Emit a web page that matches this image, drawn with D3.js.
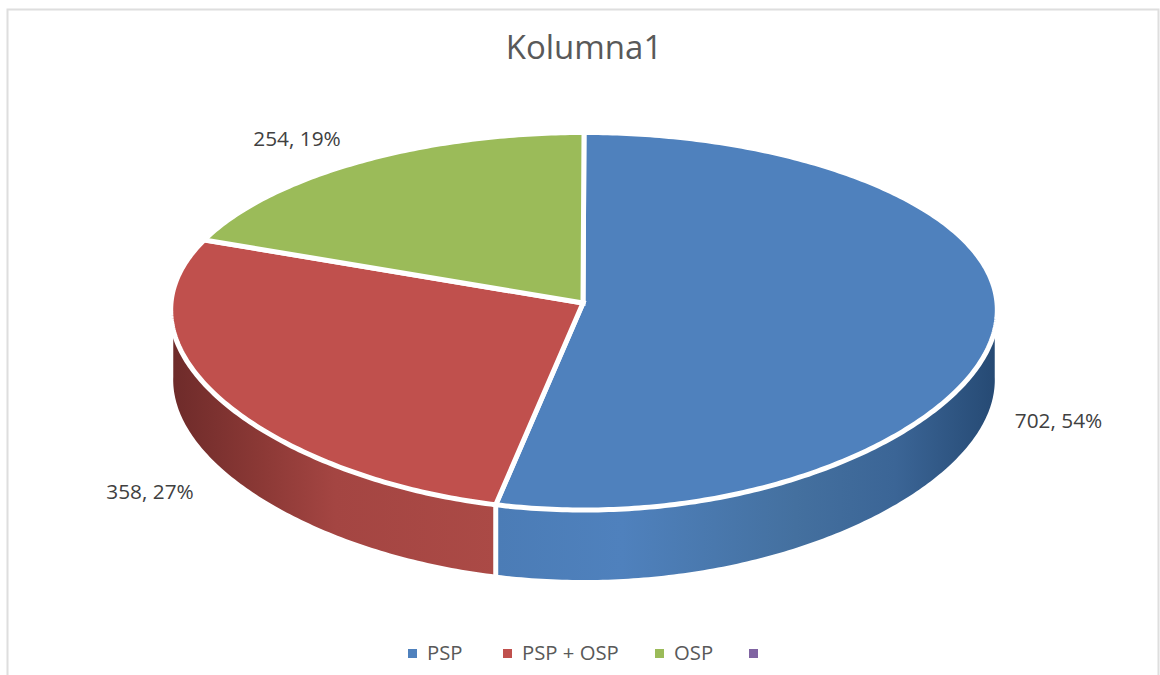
<!DOCTYPE html>
<html><head><meta charset="utf-8">
<script src="https://cdn.jsdelivr.net/npm/d3@7/dist/d3.min.js"></script>
<style>html,body{margin:0;background:#fff}svg{display:block}</style></head>
<body><svg id="c" width="1160" height="675"></svg>
<script>
const title = "Kolumna1";
const categories = ["PSP","PSP + OSP","OSP",""];
const counts = [702,358,254];
const percents = [54,27,19];
const legendColors = ["#4f81bd","#c0504d","#9bbb59","#8064a2"];
const labelColor = "#404040";

const svg = d3.select("#c");
const W=1160,H=675;
svg.append("path").attr("d",`M7.5 ${H}V9.5H${W-1.5}V${H}`).attr("fill","none").attr("stroke","#dedede").attr("stroke-width",2);

const cx=584, k=-0.0967, ya=157.7, yb=303, depth=70, kx=0.04, gap=5;
const pie=d3.pie().sort(null).value(d=>d)(counts);
const proj=(t,dz=0,R=413)=>{const u=Math.sin(t),v=-Math.cos(t),w=1+k*v;return [cx+R*u*(1+kx*v-kx*v*v),(ya*v+yb)/w+dz];};
const arcPts=(a,b,dz=0,R=413)=>{const n=Math.max(2,Math.ceil((b-a)*80));return d3.range(n+1).map(i=>proj(a+(b-a)*i/n,dz,R));};
const line=d3.line();
const defs=svg.append("defs");
function grad(id,x1,x2,stops){const g=defs.append("linearGradient").attr("id",id).attr("gradientUnits","userSpaceOnUse").attr("x1",x1).attr("x2",x2);stops.forEach(s=>g.append("stop").attr("offset",s[0]).attr("stop-color",s[1]));}
grad("gb",497,995,[[0,"#4b7cb6"],[0.25,"#4f81bd"],[0.6,"#44709f"],[0.8,"#3b6596"],[1,"#264a74"]]);
grad("gr",173,497,[[0,"#6e2b2a"],[0.26,"#8a3835"],[0.5,"#a44542"],[1,"#ab4a46"]]);
// side walls: front half of the rim, wall from the top rim down by the depth
const Rs=410.5, widest=kx/2;
[[pie[0],"url(#gb)"],[pie[1],"url(#gr)"]].forEach(([d,fill],i)=>{
  const a=i==0?Math.PI/2+widest:d.startAngle, b=i==0?d.endAngle:Math.PI*1.5-widest;
  const top=arcPts(a,b,0,Rs), bot=arcPts(a,b,depth,Rs).reverse();
  svg.append("path").attr("d",line(top.concat(bot))+"Z").attr("fill",fill);
});
// white seam between the two walls
const seam=proj(pie[0].endAngle);
svg.append("line").attr("x1",seam[0]).attr("x2",seam[0]).attr("y1",seam[1]).attr("y2",seam[1]+depth+3).attr("stroke","#fff").attr("stroke-width",gap);
pie.forEach((d,i)=>{
  const c=[cx-1,yb];
  svg.append("path").attr("d",line([c].concat(arcPts(d.startAngle,d.endAngle)))+"Z")
    .attr("fill",legendColors[i]).attr("stroke","#fff").attr("stroke-width",gap).attr("stroke-linejoin","miter");
});
// labels
const font="'Open Sans', 'Noto Sans', sans-serif";
const labelPos=[[1058.5,421],[150,492],[297,139]];
counts.forEach((c,i)=>svg.append("text").attr("x",labelPos[i][0]).attr("y",labelPos[i][1]+7).attr("text-anchor","middle")
  .attr("font-family",font).attr("font-size",20.8).attr("fill",labelColor).text(`${c}, ${percents[i]}%`));
svg.append("text").attr("x",584).attr("y",59).attr("text-anchor","middle").attr("font-family",font).attr("font-size",33).attr("fill","#595959").text(title);
// legend
const lx=[408,503,655,749],tx=[427,522,674];
categories.forEach((c,i)=>{
  svg.append("rect").attr("x",lx[i]).attr("y",649).attr("width",9).attr("height",9).attr("fill",legendColors[i]);
  if(c) svg.append("text").attr("x",tx[i]).attr("y",660).attr("font-family",font).attr("font-size",20.3).attr("fill","#595959").text(c);
});
</script></body></html>
